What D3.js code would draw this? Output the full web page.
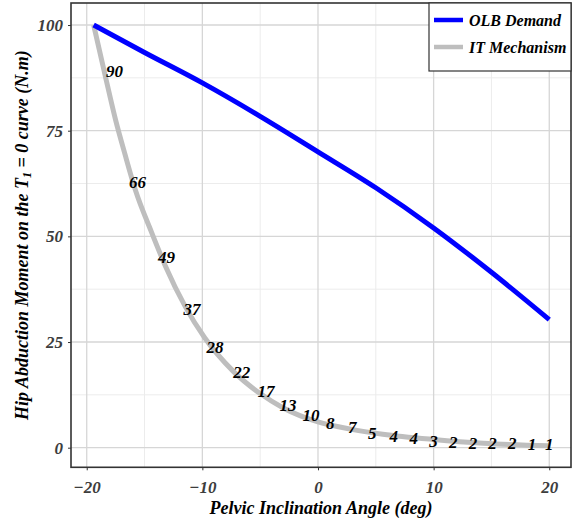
<!DOCTYPE html>
<html>
<head>
<meta charset="utf-8">
<script src="https://cdn.jsdelivr.net/npm/d3@7"></script>
<style>
  html, body { margin: 0; padding: 0; background: #fff; }
  svg { display: block; }
  text { font-family: "Liberation Serif", "Times New Roman", serif; font-weight: bold; font-style: italic; }
</style>
</head>
<body>
<svg id="chart" width="572" height="522"></svg>
<script>
// Pelvic inclination angles (deg) and hip abduction moment (N.m) for the OLB demand curve
const olbAngle  = [-19.4, -15, -10, -5, 0, 5, 10, 15, 20];
const olbMoment = [100, 93.5, 86.3, 78.4, 70, 61.5, 52, 41.5, 30.3];

// IT mechanism curve
const itAngle  = [-19.4, -18.4, -17.5, -16.7, -15.8, -14.4, -13.2, -11.5, -9.8, -7.3, -5, -3, 0, 2.8, 5.6, 10, 14.3, 20];
const itMoment = [100, 88, 77.5, 69.5, 61, 51, 43, 33.5, 26, 18, 12.8, 9.4, 6.1, 4.4, 3.2, 1.95, 1.05, 0.45];

// Annotations along the IT curve (share of OLB demand, %), with their anchor points
const itLabels      = ["90", "66", "49", "37", "28", "22", "17", "13", "10", "8", "7", "5", "4", "4", "3", "2", "2", "2", "2", "1", "1"];
const itLabelAngle  = [-17.6, -15.6, -13.1, -10.9, -8.9, -6.6, -4.5, -2.6, -0.6, 1.06, 2.96, 4.69, 6.55, 8.28, 9.98, 11.7, 13.4, 15.1, 16.8, 18.5, 20.0];
const itLabelMoment = [89.2, 62.8, 45.2, 32.7, 23.9, 17.8, 13.5, 10.1, 7.74, 5.9, 4.83, 3.55, 2.77, 2.37, 1.66, 1.42, 1.18, 1.04, 1.04, 0.88, 0.80];

const xMajor = [-20, -10, 0, 10, 20];
const xMinor = [-15, -5, 5, 15];
const yMajor = [0, 25, 50, 75, 100];
const yMinor = [12.5, 37.5, 62.5, 87.5];

const seriesNames = ["OLB Demand", "IT Mechanism"];
const seriesColors = ["#0000ff", "#bebebe"];

const svg = d3.select("#chart");
const plot = { left: 71, right: 571, top: 3, bottom: 467.3 };

const x = d3.scaleLinear().domain([-21.36, 21.88]).range([plot.left, plot.right]);
const y = d3.scaleLinear().domain([-4.64, 105.21]).range([plot.bottom, plot.top]);

// grid
const grid = svg.append("g");
grid.selectAll(".xminor").data(xMinor).join("line")
  .attr("x1", d => x(d)).attr("x2", d => x(d)).attr("y1", plot.top).attr("y2", plot.bottom)
  .attr("stroke", "#ececec").attr("stroke-width", 1);
grid.selectAll(".yminor").data(yMinor).join("line")
  .attr("y1", d => y(d)).attr("y2", d => y(d)).attr("x1", plot.left).attr("x2", plot.right)
  .attr("stroke", "#ececec").attr("stroke-width", 1);
grid.selectAll(".xmajor").data(xMajor).join("line")
  .attr("x1", d => x(d)).attr("x2", d => x(d)).attr("y1", plot.top).attr("y2", plot.bottom)
  .attr("stroke", "#d6d6d6").attr("stroke-width", 1.3);
grid.selectAll(".ymajor").data(yMajor).join("line")
  .attr("y1", d => y(d)).attr("y2", d => y(d)).attr("x1", plot.left).attr("x2", plot.right)
  .attr("stroke", "#d6d6d6").attr("stroke-width", 1.3);

// lines
const line = d3.line().x(d => x(d[0])).y(d => y(d[1])).curve(d3.curveMonotoneX);
svg.append("path")
  .datum(itAngle.map((a, i) => [a, itMoment[i]]))
  .attr("d", line).attr("fill", "none")
  .attr("stroke", seriesColors[1]).attr("stroke-width", 5);
svg.append("path")
  .datum(olbAngle.map((a, i) => [a, olbMoment[i]]))
  .attr("d", line).attr("fill", "none")
  .attr("stroke", seriesColors[0]).attr("stroke-width", 5);

// value annotations
svg.append("g").selectAll("text").data(itLabels).join("text")
  .attr("x", (d, i) => x(itLabelAngle[i]))
  .attr("y", (d, i) => y(itLabelMoment[i]))
  .attr("dy", "0.35em")
  .attr("text-anchor", "middle")
  .attr("font-size", 17)
  .attr("fill", "#000")
  .text(d => d);

// axes
const xAxis = svg.append("g").attr("transform", `translate(0,${plot.bottom})`)
  .call(d3.axisBottom(x).tickValues(xMajor).tickSize(3).tickPadding(11).tickFormat(d3.format("d")));
const yAxis = svg.append("g").attr("transform", `translate(${plot.left},0)`)
  .call(d3.axisLeft(y).tickValues(yMajor).tickSize(3).tickPadding(5).tickFormat(d3.format("d")));
[xAxis, yAxis].forEach(a => {
  a.select(".domain").remove();
  a.selectAll(".tick line").attr("stroke", "#333").attr("stroke-width", 1);
  a.selectAll(".tick text").attr("fill", "#3d3d3d").attr("font-size", 17)
    .style("font-family", '"Liberation Serif", serif').style("font-weight", "bold").style("font-style", "italic");
});
xAxis.selectAll(".tick text").text(d => d < 0 ? "\u2212" + Math.abs(d) : d);

// frame
svg.append("rect")
  .attr("x", plot.left).attr("y", plot.top)
  .attr("width", plot.right - plot.left).attr("height", plot.bottom - plot.top)
  .attr("fill", "none").attr("stroke", "#333").attr("stroke-width", 1.6);

// legend
const lg = svg.append("g");
lg.append("rect").attr("x", 429).attr("y", plot.top).attr("width", plot.right - 429).attr("height", 68)
  .attr("fill", "#fff").attr("stroke", "#333").attr("stroke-width", 1.2);
seriesNames.forEach((name, i) => {
  const yy = 20 + i * 27;
  lg.append("line").attr("x1", 434).attr("x2", 463).attr("y1", yy).attr("y2", yy)
    .attr("stroke", seriesColors[i]).attr("stroke-width", 4.5);
  lg.append("text").attr("x", 469).attr("y", yy).attr("dy", "0.35em")
    .attr("font-size", 16).attr("fill", "#000").text(name);
});

// axis titles
svg.append("text")
  .attr("x", (plot.left + plot.right) / 2).attr("y", 514)
  .attr("text-anchor", "middle").attr("font-size", 18).attr("fill", "#000")
  .text("Pelvic Inclination Angle (deg)");

const yt = svg.append("text")
  .attr("transform", `translate(28,${(plot.top + plot.bottom) / 2}) rotate(-90)`)
  .attr("text-anchor", "middle").attr("font-size", 18).attr("fill", "#000");
yt.append("tspan").text("Hip Abduction Moment on the T");
yt.append("tspan").attr("font-size", 12).attr("dy", 3).text("1");
yt.append("tspan").attr("dy", -3).text(" = 0 curve (N.m)");
</script>
</body>
</html>
